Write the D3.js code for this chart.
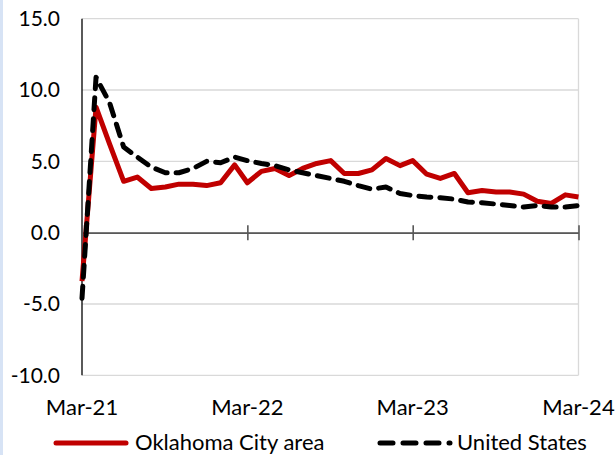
<!DOCTYPE html>
<html><head><meta charset="utf-8">
<script src="https://cdn.jsdelivr.net/npm/d3@7"></script>
<style>
html,body{margin:0;padding:0;background:#fff;}
svg{display:block;font-family:Lato,"Open Sans",sans-serif;}
</style></head>
<body><svg id="c" width="616" height="455"></svg>
<script>
const months = ["2021-03","2021-04","2021-05","2021-06","2021-07","2021-08","2021-09","2021-10","2021-11","2021-12",
"2022-01","2022-02","2022-03","2022-04","2022-05","2022-06","2022-07","2022-08","2022-09","2022-10","2022-11","2022-12",
"2023-01","2023-02","2023-03","2023-04","2023-05","2023-06","2023-07","2023-08","2023-09","2023-10","2023-11","2023-12",
"2024-01","2024-02","2024-03"];
const okc = [-3.4,8.8,6.2,3.6,3.9,3.1,3.2,3.4,3.4,3.3,3.5,4.75,3.5,4.3,4.5,4.0,4.5,4.85,5.05,4.15,4.15,4.4,5.2,4.7,5.05,4.1,3.8,4.15,2.8,2.95,2.85,2.85,2.7,2.2,2.05,2.65,2.5];
const us = [-4.6,10.9,9.1,6.0,5.3,4.6,4.2,4.2,4.5,5.0,4.9,5.3,5.05,4.85,4.7,4.4,4.2,4.0,3.8,3.6,3.3,3.05,3.2,2.75,2.6,2.5,2.45,2.35,2.15,2.1,2.0,1.9,1.8,1.9,1.8,1.8,1.9];
const yTicks = [-10,-5,0,5,10,15];
const xTickLabels = ["Mar-21","Mar-22","Mar-23","Mar-24"];
const seriesNames = ["Oklahoma City area","United States"];

const parse = d3.timeParse("%Y-%m");
const dates = months.map(parse);
const svg = d3.select("#c");
svg.append("rect").attr("x",0).attr("y",0).attr("width",3).attr("height",455).attr("fill","#d7e3f5");

const L=82, R=578.5, T=18.7, B=375.3;
const x = d3.scaleTime().domain([dates[0], dates[dates.length-1]]).range([L,R]);
const y = d3.scaleLinear().domain([-10,15]).range([B,T]);

// gridlines
svg.append("g").selectAll("line").data(yTicks).join("line")
  .attr("x1",L).attr("x2",R).attr("y1",d=>y(d)).attr("y2",d=>y(d))
  .attr("stroke","#d9d9d9").attr("stroke-width",1.3);
// right border
svg.append("line").attr("x1",R).attr("x2",R).attr("y1",T).attr("y2",B).attr("stroke","#d9d9d9").attr("stroke-width",1.3);

// y axis labels
svg.append("g").selectAll("text").data(yTicks).join("text")
  .attr("x",60).attr("y",d=>y(d)).attr("dy","0.35em").attr("text-anchor","end")
  .attr("font-size",21).attr("fill","#000").text(d=>d.toFixed(1));

// left axis line
svg.append("line").attr("x1",L).attr("x2",L).attr("y1",T).attr("y2",B).attr("stroke","#000").attr("stroke-width",1.3);

// zero axis with ticks
const tickDates = xTickLabels.map(s=>d3.timeParse("%b-%y")(s));
const xAxis = d3.axisBottom(x).tickValues(tickDates).tickSize(0).tickFormat("");
const gx = svg.append("g").attr("transform",`translate(0,${y(0)})`).call(xAxis);
gx.select(".domain").attr("stroke","#595959").attr("stroke-width",1.6);
gx.selectAll(".tick").append("line").attr("y1",-7.5).attr("y2",7.5).attr("stroke","#595959").attr("stroke-width",1.6);

// x labels
svg.append("g").selectAll("text").data(tickDates).join("text")
  .attr("x",d=>x(d)).attr("y",407).attr("dy","0.35em").attr("text-anchor","middle")
  .attr("font-size",22).attr("fill","#000").text((d,i)=>xTickLabels[i]);

const line = d3.line().x((d,i)=>x(dates[i])).y(d=>y(d));
svg.append("path").datum(okc).attr("d",line).attr("fill","none").attr("stroke","#c00000")
  .attr("stroke-width",5).attr("stroke-linejoin","round");
svg.append("path").datum(us).attr("d",line).attr("fill","none").attr("stroke","#000")
  .attr("stroke-width",5).attr("stroke-dasharray","12,9").attr("stroke-linecap","round").attr("stroke-linejoin","round");

// legend
const ly = 442, lfs = 22;
svg.append("line").attr("x1",56).attr("x2",126).attr("y1",ly+1).attr("y2",ly+1).attr("stroke","#c00000").attr("stroke-width",5).attr("stroke-linecap","round");
svg.append("text").attr("x",135).attr("y",ly).attr("dy","0.35em").attr("font-size",lfs).text(seriesNames[0]);
svg.append("line").attr("x1",380).attr("x2",450).attr("y1",ly+1).attr("y2",ly+1).attr("stroke","#000").attr("stroke-width",5).attr("stroke-linecap","round").attr("stroke-dasharray","13,10");
svg.append("text").attr("x",457).attr("y",ly).attr("dy","0.35em").attr("font-size",lfs).text(seriesNames[1]);
</script></body></html>
